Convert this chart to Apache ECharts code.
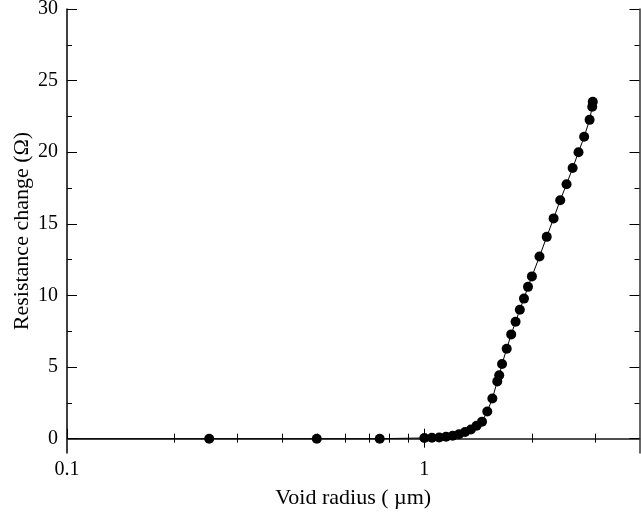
<!DOCTYPE html>
<html>
<head>
<meta charset="utf-8">
<script src="https://cdn.jsdelivr.net/npm/echarts@6/dist/echarts.min.js"></script>
<style>html,body{margin:0;padding:0;background:#fff}#c{width:641px;height:514px}</style>
</head>
<body>
<div id="c"></div>
<script>
// Data
var radius = [0.1, 0.25, 0.5, 0.75, 1.0, 1.05, 1.1, 1.15, 1.2, 1.25, 1.3, 1.35, 1.4, 1.45, 1.5, 1.55, 1.6, 1.62, 1.65, 1.7, 1.75, 1.8, 1.85, 1.9, 1.95, 2.0, 2.1, 2.2, 2.3, 2.4, 2.5, 2.6, 2.7, 2.8, 2.9, 2.95, 2.96];
var resistance = [0, 0, 0, 0, 0.05, 0.07, 0.08, 0.13, 0.2, 0.31, 0.47, 0.64, 0.9, 1.19, 1.9, 2.8, 4.0, 4.43, 5.22, 6.28, 7.28, 8.16, 9.0, 9.78, 10.6, 11.33, 12.72, 14.09, 15.38, 16.65, 17.77, 18.9, 20.0, 21.08, 22.26, 23.17, 23.52];
var xMajorTicks = [0.1, 1];
var xMinorTicks = [0.2, 0.3, 0.4, 0.5, 0.6, 0.7, 0.8, 0.9, 2, 3];
var yMajorTicks = [0, 5, 10, 15, 20, 25, 30];
var yMinorTicks = [2.5, 7.5, 12.5, 17.5, 22.5, 27.5];

var FONT = 'Liberation Serif';
var data = radius.map(function (r, i) { return [r, resistance[i]]; });

function xAx(pos, ticks, len, showLabel, showLine, lineColor) {
  return {
    type: 'log', logBase: 10, min: 0.1, max: 4, position: pos,
    splitLine: { show: false },
    axisLine: { show: showLine, lineStyle: { color: lineColor || '#000', width: 1.5 } },
    axisTick: { show: true, inside: true, length: len, customValues: ticks, lineStyle: { color: '#000', width: 1 } },
    axisLabel: showLabel ? { show: true, customValues: ticks, color: '#000', fontFamily: FONT, fontSize: 20, margin: 7,
      formatter: function (v) { return v < 0.5 ? '0.1' : '1'; } } : { show: false }
  };
}
function yAx(pos, ticks, len, showLabel, showLine, lineColor) {
  return {
    type: 'value', min: -1, max: 30, position: pos,
    splitLine: { show: false },
    axisLine: { show: showLine, lineStyle: { color: lineColor || '#000', width: 1.5 } },
    axisTick: { show: true, inside: true, length: len, customValues: ticks, lineStyle: { color: '#000', width: 1 } },
    axisLabel: showLabel ? { show: true, customValues: ticks, color: '#000', fontFamily: FONT, fontSize: 20, margin: 9 } : { show: false }
  };
}

var xAxes = [
  xAx('bottom', xMajorTicks, 10, true, true, '#000'),
  xAx('bottom', xMinorTicks, 5, false, false),
  xAx('top', [1], 9, false, true, '#555'),
  xAx('top', xMinorTicks, 4, false, false)
];
xAxes[0].name = 'Void radius ( \u00b5m)';
xAxes[0].nameLocation = 'middle';
xAxes[0].nameGap = 34;
xAxes[0].nameTextStyle = { color: '#000', fontFamily: FONT, fontSize: 22 };

var yAxes = [
  yAx('left', yMajorTicks, 10, true, true, '#000'),
  yAx('left', yMinorTicks, 5, false, false),
  yAx('right', yMajorTicks, 10, false, true, '#333'),
  yAx('right', yMinorTicks, 5, false, false)
];
yAxes[0].name = 'Resistance change (\u03a9)';
yAxes[0].nameLocation = 'middle';
yAxes[0].nameGap = 34;
yAxes[0].nameMoveOverlap = false;
yAxes[0].nameTextStyle = { color: '#000', fontFamily: FONT, fontSize: 22 };

var chart = echarts.init(document.getElementById('c'), null, { renderer: 'canvas' });
chart.setOption({
  animation: false,
  backgroundColor: '#fff',
  grid: { left: 67, right: 1.5, top: 9, bottom: 61, containLabel: false, outerBoundsMode: 'none' },
  xAxis: xAxes,
  yAxis: yAxes,
  series: [{
    type: 'line',
    xAxisIndex: 0, yAxisIndex: 0,
    data: data,
    symbol: function (v, p) { return p.dataIndex === 0 ? 'none' : 'circle'; },
    symbolSize: 10,
    showAllSymbol: true,
    itemStyle: { color: '#000' },
    lineStyle: { color: '#000', width: 1 }
  }]
});
</script>
</body>
</html>
